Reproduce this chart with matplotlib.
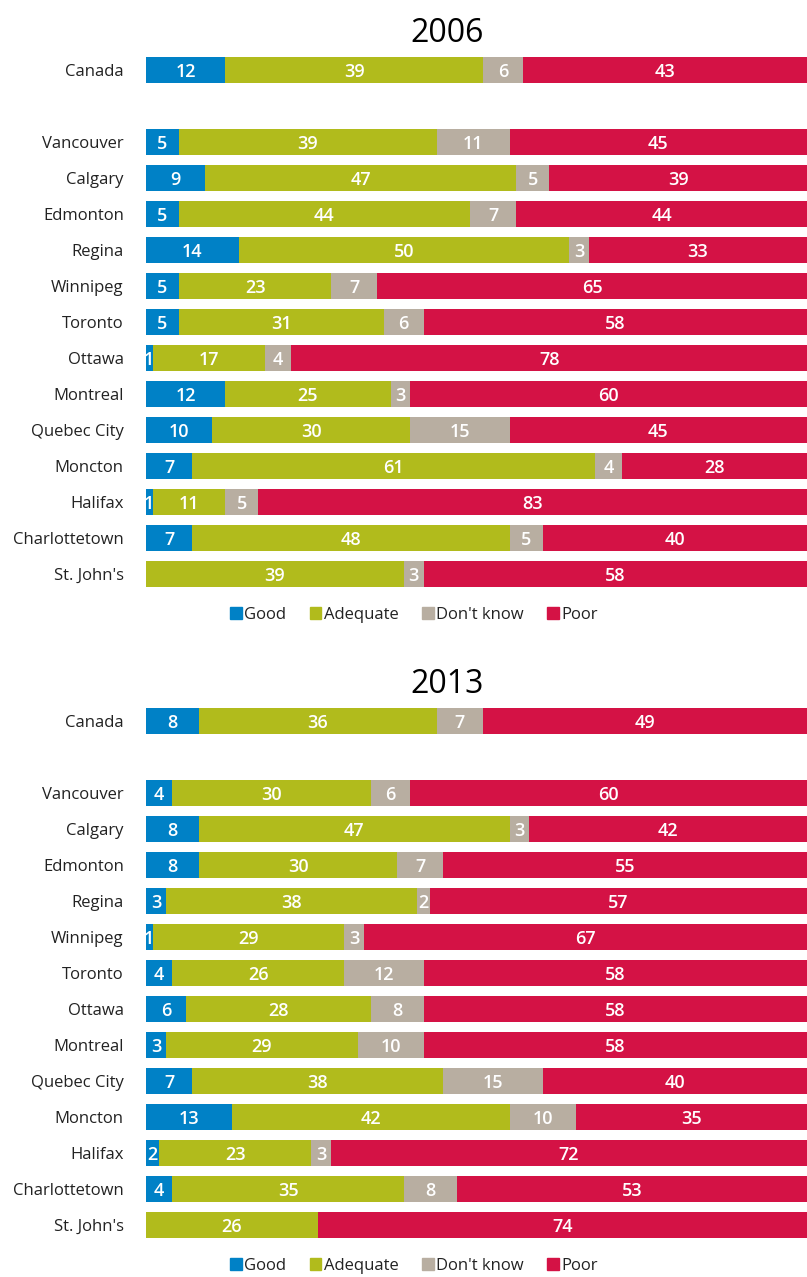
import numpy as np
import matplotlib.pyplot as plt
from matplotlib.patches import Patch

plt.rcParams['font.family'] = ['Open Sans', 'DejaVu Sans']

cities = ['Canada', 'Vancouver', 'Calgary', 'Edmonton', 'Regina', 'Winnipeg',
          'Toronto', 'Ottawa', 'Montreal', 'Quebec City', 'Moncton', 'Halifax',
          'Charlottetown', "St. John's"]
responses = ['Good', 'Adequate', "Don't know", 'Poor']
colors = ['#0081c6', '#b1bb1c', '#b8aea1', '#d41245']

good_2006 = [12, 5, 9, 5, 14, 5, 5, 1, 12, 10, 7, 1, 7, 0]
adequate_2006 = [39, 39, 47, 44, 50, 23, 31, 17, 25, 30, 61, 11, 48, 39]
dontknow_2006 = [6, 11, 5, 7, 3, 7, 6, 4, 3, 15, 4, 5, 5, 3]
poor_2006 = [43, 45, 39, 44, 33, 65, 58, 78, 60, 45, 28, 83, 40, 58]

good_2013 = [8, 4, 8, 8, 3, 1, 4, 6, 3, 7, 13, 2, 4, 0]
adequate_2013 = [36, 30, 47, 30, 38, 29, 26, 28, 29, 38, 42, 23, 35, 26]
dontknow_2013 = [7, 6, 3, 7, 2, 3, 12, 8, 10, 15, 10, 3, 8, 0]
poor_2013 = [49, 60, 42, 55, 57, 67, 58, 58, 58, 40, 35, 72, 53, 74]

# Canada sits alone, one empty slot above the cities
ypos = np.array([0] + list(range(2, 15)))

W, H = 807, 1277
fig = plt.figure(figsize=(W / 100, H / 100), dpi=100)


def panel(top_px, title, series):
    ax = fig.add_axes([146 / W, 1 - (top_px + 540) / H, 661 / W, 540 / H])
    left = np.zeros(len(cities))
    for vals, col, name in zip(series, colors, responses):
        vals = np.array(vals, dtype=float)
        ax.barh(ypos, vals, left=left, height=0.72, color=col, label=name)
        for y, l, v in zip(ypos, left, vals):
            if v > 0:
                ax.text(l + v / 2, y, f'{v:.0f}', ha='center',
                        va='center_baseline', color='white', fontsize=13,
                        fontweight='semibold')
        left += vals
    ax.set_xlim(0, 100)
    ax.set_ylim(14.5, -0.5)
    ax.set_yticks(ypos)
    ax.set_yticklabels(cities, fontsize=12, color='#222222')
    ax.tick_params(axis='y', length=0, pad=16)
    ax.set_xticks([])
    for s in ax.spines.values():
        s.set_visible(False)
    fig.text(447 / W, 1 - (top_px - 22) / H, title, ha='center',
             va='center_baseline', fontsize=23, color='black')
    handles = [Patch(color=c) for c in colors]
    ax.legend(handles, responses, loc='center', ncol=4, frameon=False,
              bbox_to_anchor=(268 / 661, -23 / 540), fontsize=12,
              handlelength=0.7, handleheight=0.7, handletextpad=0.15,
              columnspacing=1.4, labelcolor='#222222')


panel(52, '2006', [good_2006, adequate_2006, dontknow_2006, poor_2006])
panel(703, '2013', [good_2013, adequate_2013, dontknow_2013, poor_2013])

fig.savefig('out.png', dpi=100, facecolor='white')
